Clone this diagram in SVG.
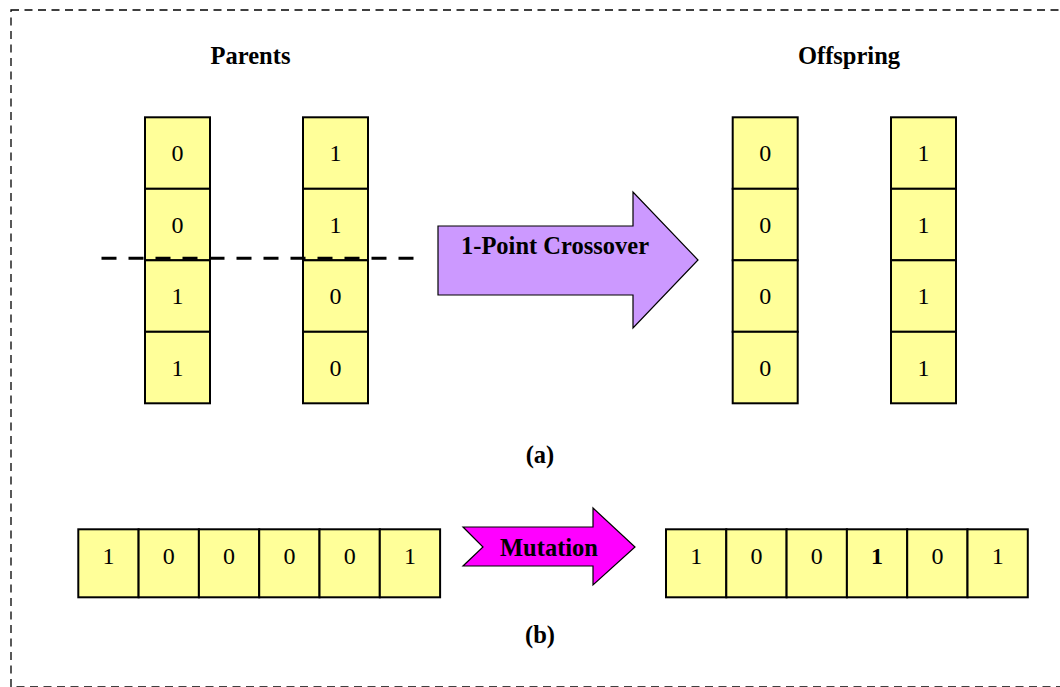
<svg xmlns="http://www.w3.org/2000/svg" width="1060" height="687" viewBox="0 0 1060 687">
  <style>
    .frame { fill: none; stroke: #000; stroke-width: 1.3; stroke-dasharray: 8 5.5; }
    .cell { fill: #FFFF99; stroke: #000; stroke-width: 2; }
    .digit { font-family: "Liberation Serif", "Times New Roman", serif; font-size: 24px; text-anchor: middle; fill: #000; }
    .bold { font-weight: bold; }
    .title { font-family: "Liberation Serif", "Times New Roman", serif; font-size: 24.5px; font-weight: bold; text-anchor: middle; fill: #000; }
    .cut { fill: none; stroke: #000; stroke-width: 3; stroke-dasharray: 15 12; }
    .op { stroke: #000; stroke-width: 1.2; stroke-linejoin: miter; }
  </style>

  <!-- outer dashed frame -->
  <rect class="frame" x="11" y="10" width="1052" height="677"/>

  <!-- titles -->
  <text class="title" x="250.5" y="64">Parents</text>
  <text class="title" x="849" y="64">Offspring</text>
  <text class="title" x="540" y="463">(a)</text>
  <text class="title" x="540" y="643">(b)</text>

  <!-- parent chromosome 1 -->
  <g id="parent1">
    <rect class="cell" x="145" y="117.3" width="65" height="71.5"/>
    <rect class="cell" x="145" y="188.8" width="65" height="71.5"/>
    <rect class="cell" x="145" y="260.3" width="65" height="71.5"/>
    <rect class="cell" x="145" y="331.8" width="65" height="71.5"/>
    <text class="digit" x="177.5" y="161">0</text>
    <text class="digit" x="177.5" y="232.5">0</text>
    <text class="digit" x="177.5" y="304">1</text>
    <text class="digit" x="177.5" y="375.5">1</text>
  </g>

  <!-- parent chromosome 2 -->
  <g id="parent2">
    <rect class="cell" x="303" y="117.3" width="65" height="71.5"/>
    <rect class="cell" x="303" y="188.8" width="65" height="71.5"/>
    <rect class="cell" x="303" y="260.3" width="65" height="71.5"/>
    <rect class="cell" x="303" y="331.8" width="65" height="71.5"/>
    <text class="digit" x="335.5" y="161">1</text>
    <text class="digit" x="335.5" y="232.5">1</text>
    <text class="digit" x="335.5" y="304">0</text>
    <text class="digit" x="335.5" y="375.5">0</text>
  </g>

  <!-- offspring chromosome 1 -->
  <g id="offspring1">
    <rect class="cell" x="732.7" y="117.3" width="65" height="71.5"/>
    <rect class="cell" x="732.7" y="188.8" width="65" height="71.5"/>
    <rect class="cell" x="732.7" y="260.3" width="65" height="71.5"/>
    <rect class="cell" x="732.7" y="331.8" width="65" height="71.5"/>
    <text class="digit" x="765.2" y="161">0</text>
    <text class="digit" x="765.2" y="232.5">0</text>
    <text class="digit" x="765.2" y="304">0</text>
    <text class="digit" x="765.2" y="375.5">0</text>
  </g>

  <!-- offspring chromosome 2 -->
  <g id="offspring2">
    <rect class="cell" x="891" y="117.3" width="65" height="71.5"/>
    <rect class="cell" x="891" y="188.8" width="65" height="71.5"/>
    <rect class="cell" x="891" y="260.3" width="65" height="71.5"/>
    <rect class="cell" x="891" y="331.8" width="65" height="71.5"/>
    <text class="digit" x="923.5" y="161">1</text>
    <text class="digit" x="923.5" y="232.5">1</text>
    <text class="digit" x="923.5" y="304">1</text>
    <text class="digit" x="923.5" y="375.5">1</text>
  </g>

  <!-- crossover point -->
  <g id="cut-line">
    <line class="cut" x1="101.5" y1="258.3" x2="418" y2="258.3"/>
  </g>

  <!-- crossover operator -->
  <g id="crossover-arrow">
    <polygon class="op" fill="#CC99FF" points="438,226 633,226 633,192 698,260 633,328 633,295 438,295"/>
    <text class="title" x="555" y="254">1-Point Crossover</text>
  </g>

  <!-- chromosome before mutation -->
  <g id="before-mutation">
    <rect class="cell" x="78.3" y="529.3" width="60.3" height="68"/>
    <rect class="cell" x="138.6" y="529.3" width="60.3" height="68"/>
    <rect class="cell" x="198.9" y="529.3" width="60.3" height="68"/>
    <rect class="cell" x="259.2" y="529.3" width="60.3" height="68"/>
    <rect class="cell" x="319.5" y="529.3" width="60.3" height="68"/>
    <rect class="cell" x="379.8" y="529.3" width="60.3" height="68"/>
    <text class="digit" x="108.5" y="563.5">1</text>
    <text class="digit" x="168.8" y="563.5">0</text>
    <text class="digit" x="229.1" y="563.5">0</text>
    <text class="digit" x="289.4" y="563.5">0</text>
    <text class="digit" x="349.7" y="563.5">0</text>
    <text class="digit" x="410" y="563.5">1</text>
  </g>

  <!-- mutation operator -->
  <g id="mutation-arrow">
    <polygon class="op" fill="#FF00FF" points="463,527 593,527 593,508 635,547 593,585 593,566 463,566 483,547"/>
    <text class="title" x="549" y="555.7">Mutation</text>
  </g>

  <!-- chromosome after mutation -->
  <g id="after-mutation">
    <rect class="cell" x="666" y="529.3" width="60.3" height="68"/>
    <rect class="cell" x="726.3" y="529.3" width="60.3" height="68"/>
    <rect class="cell" x="786.6" y="529.3" width="60.3" height="68"/>
    <rect class="cell" x="846.9" y="529.3" width="60.3" height="68"/>
    <rect class="cell" x="907.2" y="529.3" width="60.3" height="68"/>
    <rect class="cell" x="967.5" y="529.3" width="60.3" height="68"/>
    <text class="digit" x="696.2" y="563.5">1</text>
    <text class="digit" x="756.5" y="563.5">0</text>
    <text class="digit" x="816.8" y="563.5">0</text>
    <text class="digit bold" x="877.1" y="563.5">1</text>
    <text class="digit" x="937.4" y="563.5">0</text>
    <text class="digit" x="997.7" y="563.5">1</text>
  </g>
</svg>
